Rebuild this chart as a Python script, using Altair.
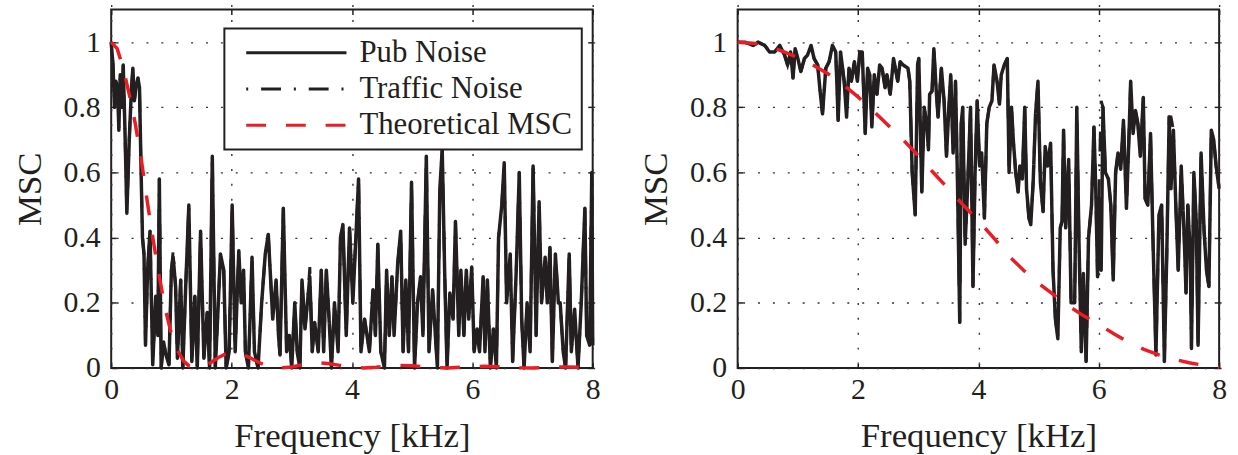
import altair as alt
import pandas as pd

FONT = "Liberation Serif, Times New Roman, DejaVu Serif, serif"
INK = "#231f20"
RED = "#ec1c24"
SERIES = ["Pub Noise", "Traffic Noise", "Theoretical MSC"]

# ---------------- left panel ----------------
left_freq = [0.00, 0.03, 0.055, 0.08, 0.11, 0.127, 0.15, 0.18, 0.20, 0.23, 0.26, 0.30, 0.335, 0.36, 0.385,
             0.41, 0.445, 0.47, 0.495, 0.52, 0.545, 0.57, 0.605, 0.645, 0.69, 0.74, 0.775, 0.80, 0.83, 0.87,
             0.91, 0.96, 1.00, 1.03, 1.07, 1.10, 1.155, 1.19, 1.24, 1.29, 1.34, 1.39, 1.43, 1.485, 1.54,
             1.595, 1.635, 1.68, 1.73, 1.78, 1.815, 1.87, 1.91, 1.96, 2.01, 2.06, 2.12, 2.16, 2.20, 2.23,
             2.28, 2.34, 2.38, 2.44, 2.50, 2.56, 2.61, 2.684, 2.74, 2.78, 2.805, 2.86, 2.915, 2.96, 3.00,
             3.05, 3.09, 3.135, 3.17, 3.22, 3.26, 3.30, 3.34, 3.38, 3.44, 3.49, 3.53, 3.575, 3.62, 3.66,
             3.71, 3.77, 3.81, 3.85, 3.905, 3.96, 4.015, 4.06, 4.11, 4.15, 4.21, 4.25, 4.29, 4.35, 4.39,
             4.43, 4.48, 4.54, 4.576, 4.62, 4.665, 4.70, 4.76, 4.81, 4.85, 4.895, 4.94, 4.99, 5.04, 5.09,
             5.14, 5.18, 5.236, 5.28, 5.34, 5.42, 5.46, 5.50, 5.54, 5.58, 5.627, 5.68, 5.72, 5.775, 5.81,
             5.86, 5.90, 5.94, 5.99, 6.03, 6.08, 6.12, 6.18, 6.21, 6.25, 6.30, 6.35, 6.40, 6.436, 6.49,
             6.53, 6.57, 6.63, 6.67, 6.73, 6.78, 6.82, 6.86, 6.91, 6.96, 7.01, 7.06, 7.11, 7.15, 7.21,
             7.245, 7.29, 7.33, 7.38, 7.43, 7.46, 7.51, 7.55, 7.61, 7.645, 7.70, 7.756, 7.81, 7.87, 7.90,
             7.95, 7.985, 8.00]
left_pub = [1.00, 0.93, 0.80, 0.88, 0.85, 0.73, 0.90, 0.80, 0.93, 0.72, 0.475, 0.70, 0.85, 0.92, 0.82,
            0.86, 0.89, 0.86, 0.62, 0.40, 0.35, 0.07, 0.30, 0.42, 0.01, 0.22, 0.10, 0.58, 0.00, 0.08,
            0.04, 0.01, 0.30, 0.34, 0.25, 0.03, 0.27, 0.00, 0.26, 0.50, 0.02, 0.22, 0.00, 0.42, 0.03,
            0.17, 0.00, 0.65, 0.00, 0.20, 0.35, 0.30, 0.00, 0.05, 0.50, 0.05, 0.36, 0.20, 0.30, 0.05,
            0.00, 0.34, 0.05, 0.00, 0.20, 0.35, 0.41, 0.15, 0.27, 0.10, 0.04, 0.49, 0.05, 0.10, 0.00,
            0.20, 0.05, 0.00, 0.27, 0.12, 0.20, 0.28, 0.05, 0.14, 0.05, 0.30, 0.05, 0.30, 0.15, 0.00,
            0.20, 0.05, 0.40, 0.44, 0.10, 0.43, 0.20, 0.38, 0.58, 0.05, 0.15, 0.10, 0.05, 0.24, 0.10,
            0.38, 0.05, 0.00, 0.30, 0.10, 0.28, 0.10, 0.32, 0.42, 0.05, 0.27, 0.05, 0.57, 0.00, 0.20,
            0.28, 0.10, 0.65, 0.05, 0.24, 0.00, 0.55, 0.67, 0.30, 0.00, 0.23, 0.15, 0.45, 0.10, 0.30,
            0.10, 0.30, 0.15, 0.31, 0.05, 0.12, 0.05, 0.28, 0.05, 0.27, 0.00, 0.12, 0.00, 0.40, 0.50,
            0.63, 0.20, 0.35, 0.02, 0.30, 0.60, 0.15, 0.00, 0.20, 0.05, 0.62, 0.10, 0.51, 0.20, 0.34,
            0.20, 0.37, 0.02, 0.35, 0.20, 0.20, 0.05, 0.00, 0.35, 0.05, 0.18, 0.00, 0.20, 0.49, 0.10,
            0.07, 0.60, 0.07]
# traffic noise lies almost exactly on top of the pub-noise curve
left_traffic = list(left_pub)
left_traffic[33] = 0.36
left_traffic[81] = 0.31
left_traffic[96] = 0.23

left_theory_freq = [0.0, 0.1, 0.2, 0.3, 0.4, 0.5, 0.6, 0.7, 0.8, 0.9, 1.0, 1.1, 1.2, 1.3, 1.4, 1.5, 1.6,
                    1.7, 1.8, 1.9, 2.0, 2.1, 2.2, 2.3, 2.4, 2.5, 2.6, 2.7, 2.8, 3.0, 3.2, 3.4, 3.6, 3.8,
                    4.0, 4.2, 4.4, 4.6, 4.8, 5.0, 5.2, 5.4, 5.6, 5.8, 6.0, 6.2, 6.4, 6.6, 6.8, 7.0, 7.2,
                    7.4, 7.6, 7.8, 8.0]
left_theory = [1.0, 0.98, 0.92, 0.84, 0.75, 0.64, 0.51, 0.39, 0.28, 0.18, 0.105, 0.055, 0.022, 0.005,
               0.0, 0.002, 0.01, 0.022, 0.034, 0.043, 0.047, 0.046, 0.04, 0.032, 0.022, 0.013, 0.006,
               0.002, 0.0, 0.003, 0.011, 0.016, 0.014, 0.008, 0.002, 0.0, 0.002, 0.006, 0.008, 0.007,
               0.004, 0.001, 0.0, 0.002, 0.004, 0.005, 0.004, 0.002, 0.0005, 0.0, 0.001, 0.003, 0.003,
               0.002, 0.001]

# ---------------- right panel ----------------
right_freq = [0.00, 0.12, 0.26, 0.34, 0.45, 0.53, 0.615, 0.70, 0.78, 0.83, 0.88, 0.92, 0.955, 1.00, 1.05,
              1.11, 1.16, 1.22, 1.27, 1.33, 1.37, 1.41, 1.465, 1.52, 1.575, 1.63, 1.67, 1.71, 1.77, 1.81,
              1.85, 1.89, 1.94, 1.99, 2.03, 2.07, 2.12, 2.16, 2.195, 2.23, 2.27, 2.315, 2.36, 2.40, 2.45,
              2.48, 2.535, 2.59, 2.66, 2.70, 2.75, 2.83, 2.86, 2.90, 2.95, 2.99, 3.01, 3.06, 3.10, 3.14,
              3.17, 3.19, 3.23, 3.26, 3.30, 3.33, 3.385, 3.43, 3.47, 3.51, 3.54, 3.58, 3.62, 3.65, 3.69,
              3.715, 3.74, 3.78, 3.82, 3.87, 3.91, 3.945, 3.98, 4.02, 4.055, 4.10, 4.14, 4.18, 4.225,
              4.26, 4.31, 4.35, 4.38, 4.43, 4.48, 4.51, 4.55, 4.58, 4.62, 4.66, 4.69, 4.73, 4.77, 4.80,
              4.84, 4.87, 4.91, 4.95, 4.99, 5.03, 5.075, 5.11, 5.15, 5.20, 5.24, 5.28, 5.32, 5.36, 5.39,
              5.415, 5.45, 5.50, 5.54, 5.60, 5.635, 5.67, 5.71, 5.745, 5.79, 5.83, 5.88, 5.92, 5.95,
              5.98, 6.00, 6.04, 6.07, 6.11, 6.16, 6.20, 6.24, 6.28, 6.32, 6.365, 6.41, 6.46, 6.50, 6.53,
              6.57, 6.61, 6.65, 6.69, 6.74, 6.77, 6.815, 6.86, 6.90, 6.95, 7.00, 7.045, 7.09, 7.13, 7.17,
              7.20, 7.24, 7.28, 7.32, 7.37, 7.42, 7.45, 7.48, 7.52, 7.54, 7.58, 7.62, 7.65, 7.70, 7.75,
              7.79, 7.83, 7.87, 7.91, 7.95, 8.00]
right_pub = [1.00, 1.00, 0.99, 1.00, 0.99, 0.97, 0.97, 0.99, 0.96, 0.93, 0.97, 0.89, 0.98, 0.95, 0.91,
             0.95, 0.96, 0.99, 0.95, 0.93, 0.85, 0.78, 0.92, 0.94, 0.99, 0.97, 0.76, 0.97, 0.88, 0.77,
             0.92, 0.88, 0.94, 0.88, 0.97, 0.97, 0.72, 0.92, 0.90, 0.74, 0.90, 0.84, 0.93, 0.92, 0.86,
             0.90, 0.84, 0.95, 0.88, 0.94, 0.93, 0.92, 0.88, 0.60, 0.47, 0.93, 0.95, 0.54, 0.80, 0.75,
             0.67, 0.84, 0.85, 0.98, 0.85, 0.77, 0.92, 0.82, 0.65, 0.80, 0.90, 0.66, 0.88, 0.60, 0.14,
             0.75, 0.80, 0.38, 0.55, 0.80, 0.25, 0.60, 0.82, 0.62, 0.66, 0.46, 0.75, 0.80, 0.82,
             0.93, 0.88, 0.81, 0.90, 0.93, 0.95, 0.60, 0.80, 0.70, 0.60, 0.54, 0.62, 0.58, 0.80, 0.55,
             0.46, 0.44, 0.57, 0.78, 0.88, 0.57, 0.48, 0.68, 0.62, 0.69, 0.30, 0.15, 0.09, 0.43, 0.45,
             0.73, 0.43, 0.64, 0.20, 0.20, 0.80, 0.40, 0.05, 0.29, 0.02, 0.40, 0.50, 0.74, 0.55,
             0.28, 0.52, 0.30, 0.80, 0.60, 0.58, 0.50, 0.27, 0.60, 0.66, 0.61, 0.76, 0.49, 0.70, 0.88,
             0.72, 0.79, 0.75, 0.65, 0.83, 0.52, 0.50, 0.72, 0.40, 0.04, 0.47, 0.50, 0.02, 0.35, 0.77,
             0.55, 0.73, 0.50, 0.30, 0.62, 0.40, 0.23, 0.50, 0.35, 0.06, 0.60, 0.45, 0.07, 0.66, 0.42,
             0.30, 0.25, 0.73, 0.70, 0.62, 0.55]
right_traffic = list(right_pub)
right_traffic[29] = 0.80
right_traffic[135] = 0.82
right_traffic[163] = 0.77

right_theory_freq = [0.0, 0.25, 0.5, 0.75, 1.0, 1.25, 1.5, 1.75, 2.0, 2.25, 2.5, 2.75, 3.0, 3.25, 3.5,
                     3.75, 4.0, 4.25, 4.5, 4.75, 5.0, 5.25, 5.5, 5.75, 6.0, 6.25, 6.5, 6.75, 7.0, 7.25,
                     7.5, 7.75, 8.0]
right_theory = [1.0, 0.997, 0.988, 0.972, 0.953, 0.93, 0.903, 0.87, 0.832, 0.79, 0.745, 0.70, 0.652,
                0.60, 0.55, 0.50, 0.452, 0.40, 0.345, 0.30, 0.26, 0.225, 0.19, 0.16, 0.134, 0.105,
                0.078, 0.057, 0.040, 0.027, 0.016, 0.008, 0.002]

X_TICKS = [0, 2, 4, 6, 8]
Y_TICKS = [0, 0.2, 0.4, 0.6, 0.8, 1]


def long_df(freq, pub, traffic, tfreq, theory):
    rows = []
    for f, v in zip(freq, traffic):
        rows.append({"freq": f, "msc": v, "series": "Traffic Noise"})
    for f, v in zip(freq, pub):
        rows.append({"freq": f, "msc": v, "series": "Pub Noise"})
    for f, v in zip(tfreq, theory):
        rows.append({"freq": f, "msc": v, "series": "Theoretical MSC"})
    return pd.DataFrame(rows)


def panel(df, show_legend):
    if show_legend:
        leg = alt.Legend(
            orient="none", legendX=114, legendY=19, title=None,
            symbolType="M-0.2,0H7.88", symbolSize=625, symbolStrokeWidth=3,
            labelOffset=96, padding=9, rowPadding=4.5,
            strokeColor=INK, fillColor="white",
            labelFont=FONT, labelFontSize=31, labelColor=INK, labelLimit=0,
        )
    else:
        leg = None
    xs = alt.Scale(domain=[0, 8], nice=False)
    ys = alt.Scale(domain=[0, 1.1], nice=False)
    x_main = alt.X("freq:Q", scale=xs, axis=alt.Axis(values=X_TICKS, title="Frequency [kHz]"))
    y_main = alt.Y("msc:Q", scale=ys, axis=alt.Axis(values=Y_TICKS, format="~g", title="MSC"))
    # inward tick marks on the top and right edges of the box
    x_top = alt.X("freq:Q", scale=xs, axis=alt.Axis(orient="top", values=X_TICKS, labels=False,
                                                    title=None, grid=False))
    y_right = alt.Y("msc:Q", scale=ys, axis=alt.Axis(orient="right", values=Y_TICKS, labels=False,
                                                     title=None, grid=False))
    x_none = alt.X("freq:Q", scale=xs, axis=None)
    y_none = alt.Y("msc:Q", scale=ys, axis=None)
    color = alt.Color("series:N", scale=alt.Scale(domain=SERIES, range=[INK, INK, RED]), legend=leg)
    dash = alt.StrokeDash("series:N",
                          scale=alt.Scale(domain=SERIES, range=[[1, 0], [2, 13, 20, 13], [20, 20]]),
                          legend=leg)
    base = alt.Chart(df).encode(color=color, strokeDash=dash)
    traffic = (base.encode(x=x_main, y=y_main)
               .transform_filter(alt.datum.series == "Traffic Noise").mark_line(strokeWidth=3))
    pub = (base.encode(x=x_top, y=y_right)
           .transform_filter(alt.datum.series == "Pub Noise").mark_line(strokeWidth=3.5, strokeJoin="round"))
    theo = (base.encode(x=x_none, y=y_none)
            .transform_filter(alt.datum.series == "Theoretical MSC").mark_line(strokeWidth=3.5))
    return (alt.layer(traffic, pub, theo)
            .resolve_axis(x="independent", y="independent")
            .properties(width=485, height=361))


left = panel(long_df(left_freq, left_pub, left_traffic, left_theory_freq, left_theory), True)
right = panel(long_df(right_freq, right_pub, right_traffic, right_theory_freq, right_theory), False)

chart = (
    alt.hconcat(left, right, spacing=36)
    .resolve_legend(color="independent", strokeDash="independent")
    .properties(padding={"left": 11, "top": 6, "right": 10, "bottom": 0}, background="white")
    .configure_view(stroke=INK, strokeWidth=2)
    .configure_axis(
        labelFont=FONT, labelFontSize=30, labelColor=INK, labelPadding=11, labelFlush=False,
        titleFont=FONT, titleFontSize=35, titleFontWeight="normal", titleColor=INK,
        ticks=True, tickSize=5, tickWidth=1.5, tickColor=INK, offset=-5, domain=False,
        grid=True, gridDash=[2, 13], gridColor="#333333", gridWidth=1.4,
    )
    .configure_axisY(titlePadding=16)
    .configure_axisX(titlePadding=14, labelPadding=7)
    .configure_legend(strokeWidth=2)
)

chart.save("out.html", embed_options={"renderer": "svg", "actions": False})
